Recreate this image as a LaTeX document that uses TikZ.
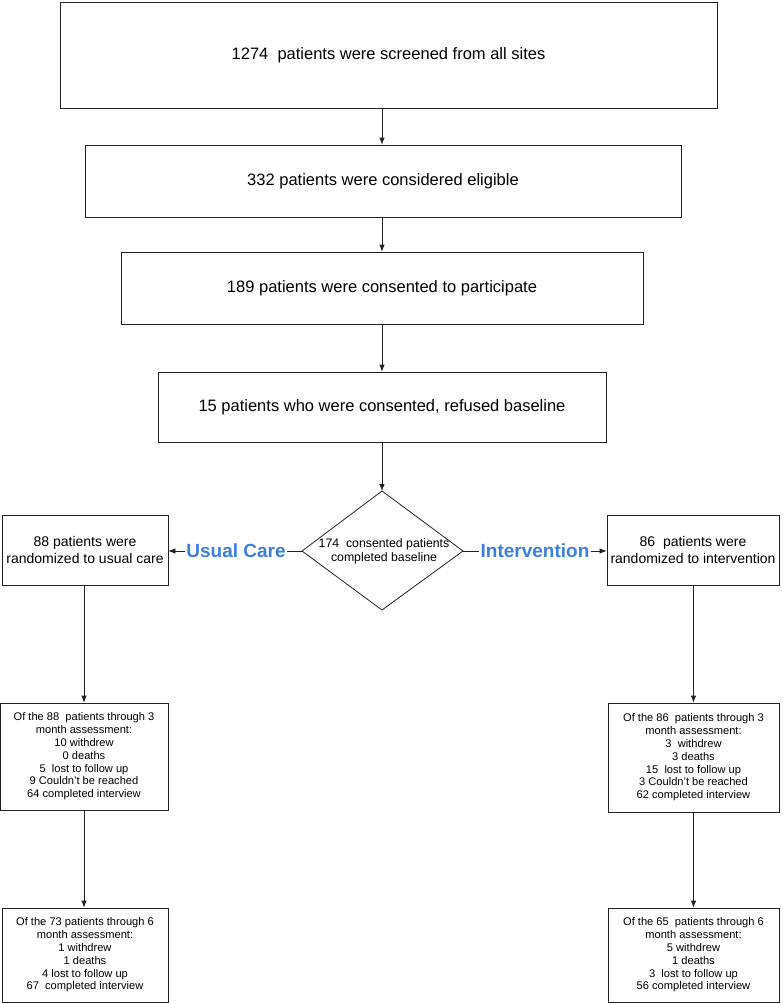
\documentclass[tikz,border=0pt]{standalone}
\usepackage{fontspec}
\setmainfont{Liberation Sans}
\usetikzlibrary{arrows.meta,calc}
\definecolor{lblblue}{HTML}{3D7FDB}
\definecolor{linegray}{HTML}{222222}
\begin{document}
\begin{tikzpicture}[x=1pt,y=-1pt,
  box/.style={draw=linegray,line width=0.8pt,inner sep=0pt,align=center},
  bigtxt/.style={font=\fontsize{16.5}{19}\selectfont},
  midtxt/.style={font=\fontsize{14}{17}\selectfont},
  smalltxt/.style={font=\fontsize{11.1}{12.8}\selectfont},
  arr/.style={draw=linegray,line width=0.8pt,-{Latex[length=7pt,width=5.5pt]}},
  ln/.style={draw=linegray,line width=0.8pt},
  lbl/.style={text=lblblue,font=\bfseries\fontsize{19}{21}\selectfont,inner sep=1pt}]
\useasboundingbox (0,0) rectangle (782,1004);
\fill[white] (0,0) rectangle (782,1004);

\node[box,bigtxt,minimum width=657pt,minimum height=106pt] (b1) at (388.5,55) {1274\ \ patients were screened from all sites};
\node[box,bigtxt,minimum width=596pt,minimum height=72pt] (b2) at (383,181) {332 patients were considered eligible};
\node[box,bigtxt,minimum width=522pt,minimum height=72pt] (b3) at (382,288) {189 patients were consented to participate};
\node[box,bigtxt,minimum width=448pt,minimum height=70pt] (b4) at (382,407) {15 patients who were consented, refused baseline};

\coordinate (dT) at (382,491);
\coordinate (dB) at (382,610);
\coordinate (dL) at (302,551);
\coordinate (dR) at (463,551);
\draw[ln] (dT) -- (dR) -- (dB) -- (dL) -- cycle;
\node[align=center,font=\fontsize{12.3}{14}\selectfont] (dtxt) at (384,551) {174\ \ consented patients\\completed baseline};

\node[box,midtxt,minimum width=166pt,minimum height=70pt] (ul) at (85,550) {88 patients were\\randomized to usual care};
\node[box,midtxt,minimum width=172pt,minimum height=70pt] (ir) at (693,550) {86\ \ patients were\\randomized to intervention};

\node[lbl] (uc) at (236,551) {Usual Care};
\node[lbl] (iv) at (535,551) {Intervention};

\node[box,smalltxt,minimum width=168pt,minimum height=107pt] (u3) at (84,756.5) {Of the 88\ \ patients through 3\\month assessment:\\10 withdrew\\0 deaths\\5\ \ lost to follow up\\9 Couldn't be reached\\64 completed interview};
\node[box,smalltxt,minimum width=171pt,minimum height=109pt] (i3) at (693.5,757.5) {Of the 86\ \ patients through 3\\month assessment:\\3\ \ withdrew\\3 deaths\\15\ \ lost to follow up\\3 Couldn't be reached\\62 completed interview};

\node[box,smalltxt,minimum width=166pt,minimum height=94pt] (u6) at (85,955) {Of the 73 patients through 6\\month assessment:\\1 withdrew\\1 deaths\\4 lost to follow up\\67\ \ completed interview};
\node[box,smalltxt,minimum width=171pt,minimum height=94pt] (i6) at (693.5,955) {Of the 65\ \ patients through 6\\month assessment:\\5 withdrew\\1 deaths\\3\ \ lost to follow up\\56 completed interview};

\draw[arr] (dT |- b1.south) -- (dT |- b2.north);
\draw[arr] (dT |- b2.south) -- (dT |- b3.north);
\draw[arr] (dT |- b3.south) -- (dT |- b4.north);
\draw[arr] (dT |- b4.south) -- (dT);

\draw[ln] (dL) -- (dL -| uc.east);
\draw[arr] (dL -| uc.west) -- (dL -| ul.east);
\draw[ln] (dR) -- (dR -| iv.west);
\draw[arr] (dR -| iv.east) -- (dR -| ir.west);

\draw[arr] (ul.south -| u3.north) -- (u3.north);
\draw[arr] (u3.south) -- (u3.south |- u6.north);
\draw[arr] (ir.south -| i3.north) -- (i3.north);
\draw[arr] (i3.south) -- (i3.south |- i6.north);
\end{tikzpicture}
\end{document}
